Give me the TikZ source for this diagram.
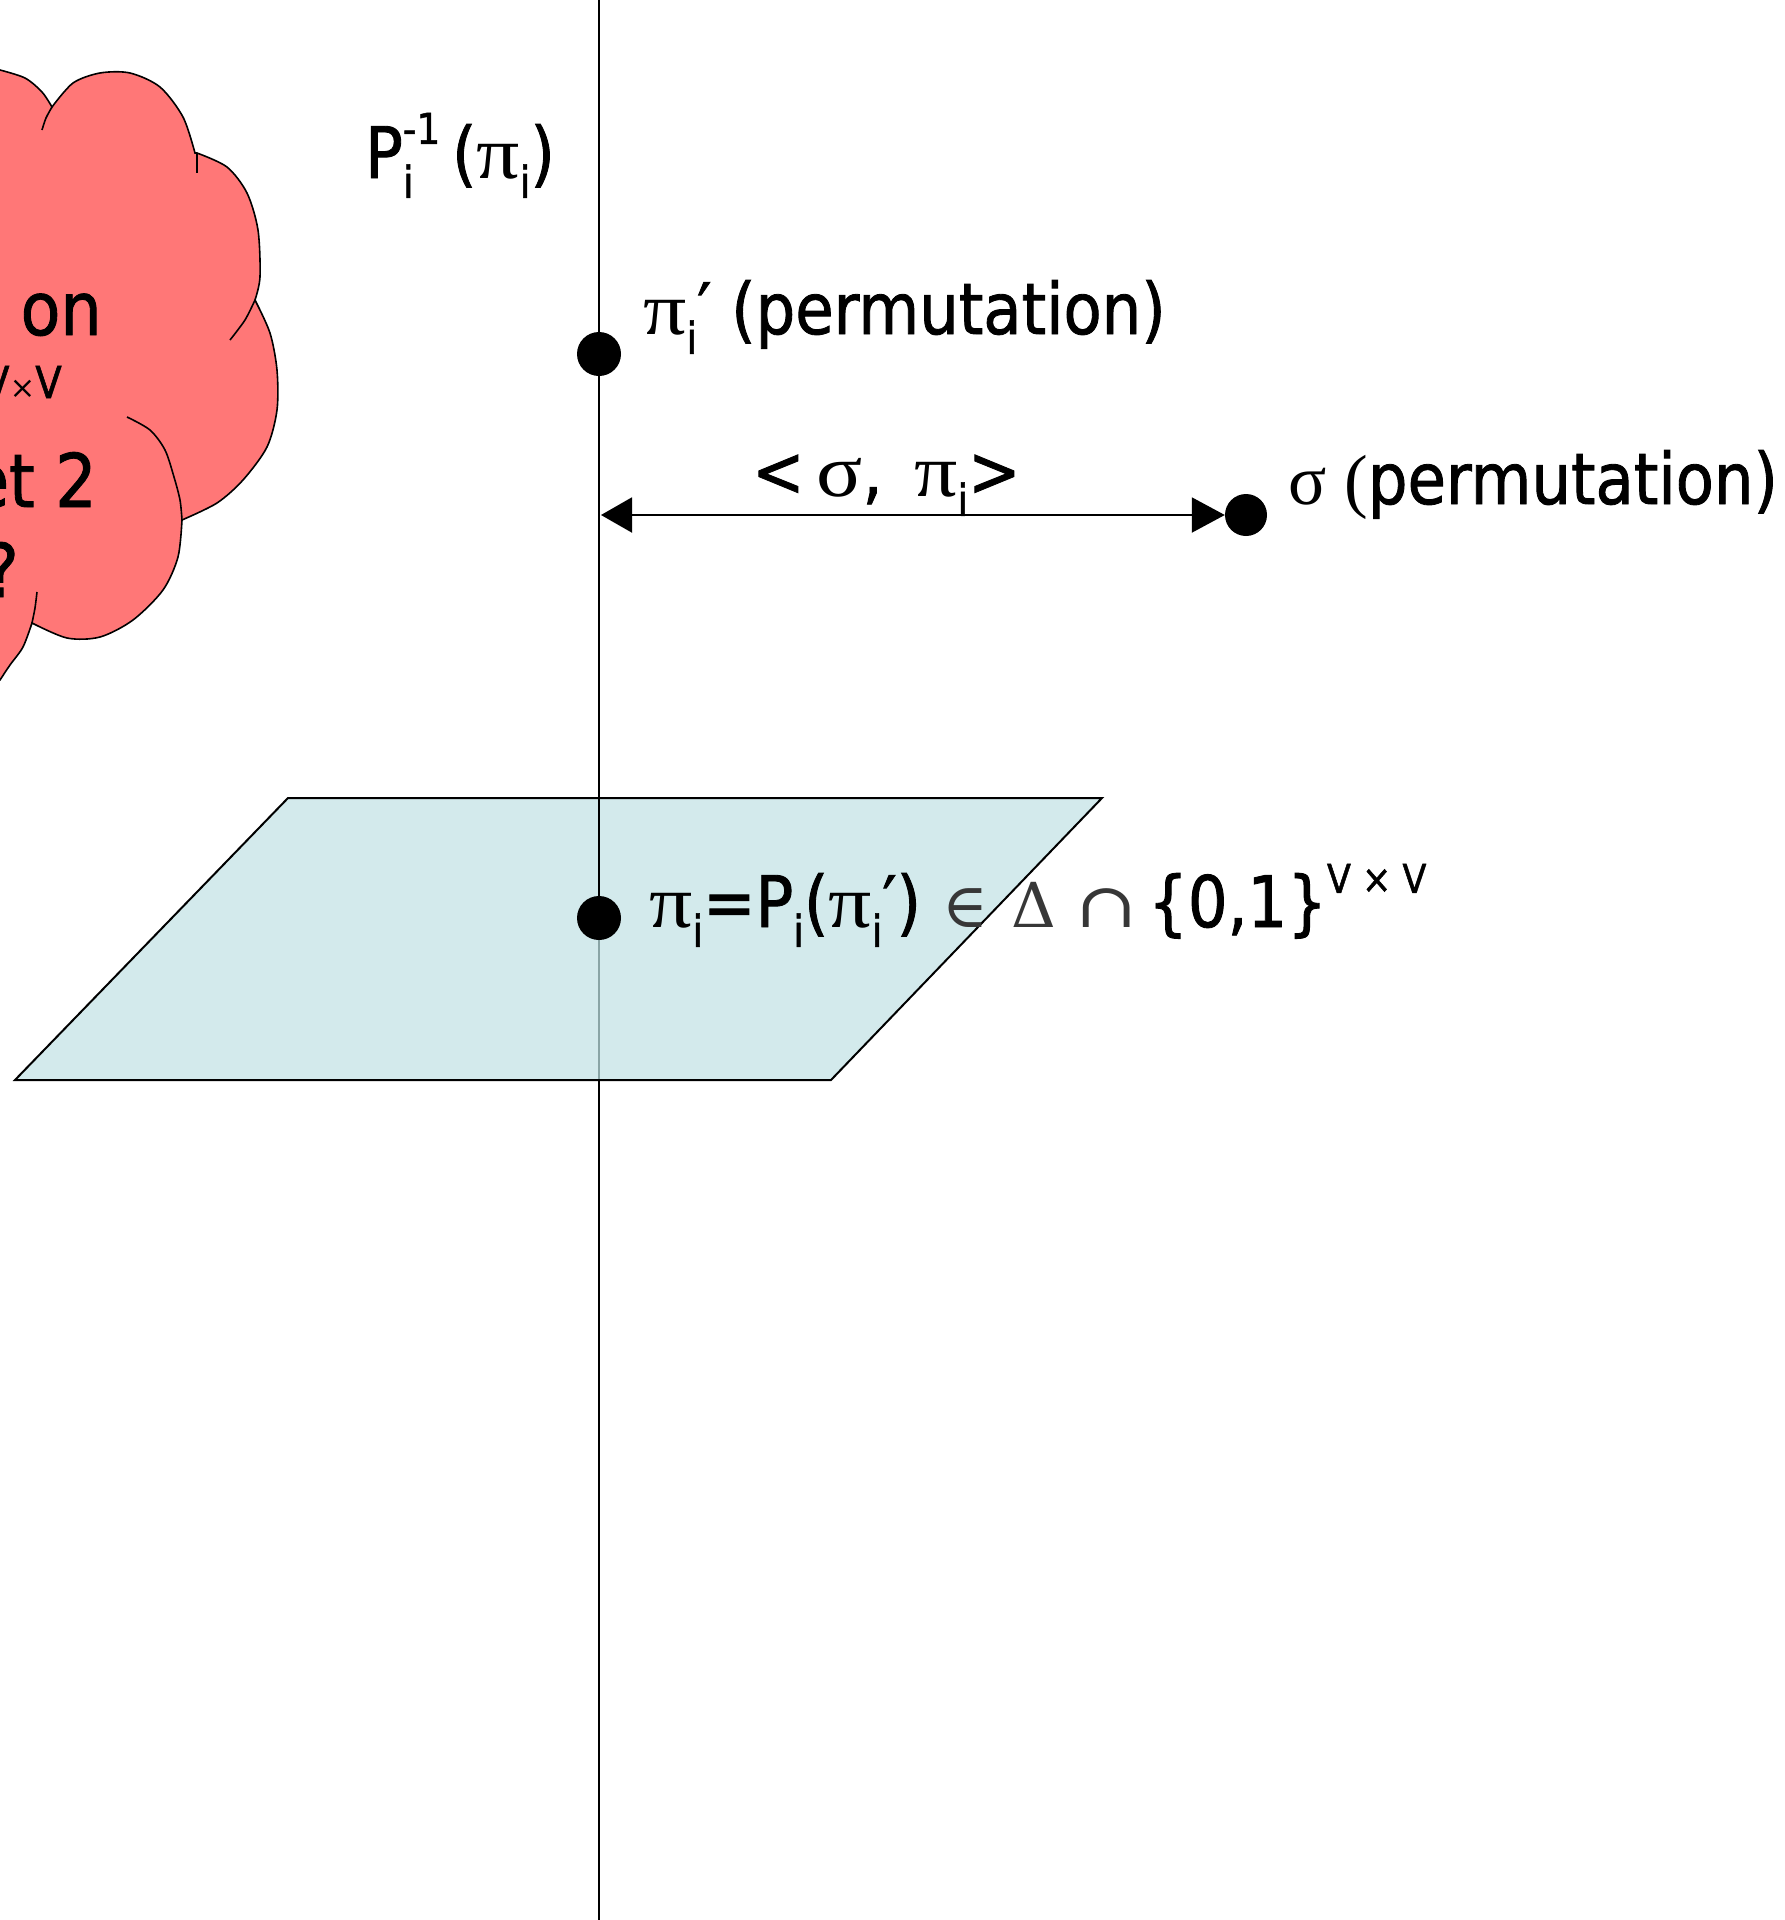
\documentclass[tikz,border=0pt]{standalone}
\usepackage{fontspec}
\setmainfont{DejaVu Sans}[FakeStretch=0.88, FakeBold=1.2]
\newfontfamily\grk{Liberation Serif}[FakeStretch=1.15, Scale=1.05]
\newfontfamily\grkn{Liberation Serif}
\newfontfamily\mth{DejaVu Serif}
\usetikzlibrary{arrows.meta}
\definecolor{cloudfill}{RGB}{255,119,119}
\definecolor{planefill}{RGB}{211,234,236}
\definecolor{underline}{RGB}{138,165,166}
\definecolor{symgray}{RGB}{55,55,55}
\newcommand\lowi{\raisebox{-0.28em}{\scalebox{0.62}{i}}}
\newcommand\hiexp[1]{\raisebox{0.48em}{\scalebox{0.6}{#1}}}
\begin{document}
\begin{tikzpicture}[x=1pt,y=-1pt,
  lw/.style={line width=2pt},
  lbl/.style={inner sep=0pt, font=\fontsize{71}{84}\selectfont},
  cloudtxt/.style={inner sep=0pt, font=\fontsize{74}{88}\selectfont},
  smalltxt/.style={inner sep=0pt, font=\fontsize{44}{52}\selectfont},
  dot/.style={circle, fill=black, minimum size=44pt, inner sep=0pt},
  crease/.style={line width=1.6pt}]
\useasboundingbox (0,0) rectangle (1785,1920);
\clip (0,0) rectangle (1785,1920);

% cloud (cut by the left edge)
\filldraw[fill=cloudfill, draw=black, line width=1.6pt]
  (-10,70) -- plot[smooth] coordinates {(0,70) (25,78) (42,92) (52,107)}
  -- plot[smooth] coordinates {(52,107) (73,83) (100,73) (130,73) (160,87) (183,117) (195,153)}
  -- plot[smooth] coordinates {(197,153) (227,167) (247,193) (258,230) (260,277) (255,300)}
  -- plot[smooth] coordinates {(255,300) (270,333) (277,370) (277,410) (267,447) (243,480) (217,503) (182,520)}
  -- plot[smooth] coordinates {(182,520) (178,557) (163,590) (133,620) (100,637) (67,638) (32,623)}
  -- plot[smooth] coordinates {(32,623) (23,647) (10,665) (0,680)}
  -- (-10,680) -- cycle;
\draw[crease] plot[smooth] coordinates {(52,107) (46,118) (42,130)};
\draw[crease] (197,153) -- (197,173);
\draw[crease] plot[smooth] coordinates {(255,300) (245,320) (230,340)};
\draw[crease] plot[smooth] coordinates {(127,417) (150,430) (165,450) (174,477) (180,500) (182,520)};
\draw[crease] plot[smooth] coordinates {(37,592) (35,608) (32,623)};

\node[cloudtxt, anchor=base east] (c1) at (102,335) {t on};
\node[smalltxt, anchor=base east] (c2) at (62,398) {V{\mth\scalebox{0.7}{×}}V};
\node[cloudtxt, anchor=base east] (c3) at (97,507) {et 2};
\node[cloudtxt, anchor=base west] (c4) at (-16,597) {?};

% vertical line
\coordinate (vtop) at (599,0);
\coordinate (vbot) at (599,1920);
\draw[lw] (vtop) -- (vbot);

% plane
\filldraw[fill=planefill, draw=black, lw] (288,798) -- (1102,798) -- (831,1080) -- (15,1080) -- cycle;
\coordinate (ptop) at (599,799);
\coordinate (pbot) at (599,1079);
\draw[lw, draw=underline] (ptop) -- (pbot);

% dots
\node[dot] (d1) at (599,354) {};
\node[dot] (d2) at (599,918) {};
\node[dot, minimum size=42pt] (sig) at (1246,515) {};
\draw[lw] (d1.center) -- (d2.center);

% arrow
\coordinate (al) at (601,515);
\draw[lw, {Triangle[length=31pt,width=35pt]}-{Triangle[length=33pt,width=35pt]}] (al) -- (sig.west);

% labels
\node[lbl, anchor=base west] (plab) at (365,178) {P\rlap{\lowi}\hiexp{-1}\,({\grk π}\lowi)};
\node[lbl, anchor=base west] (t1) at (643,334) {{\grk π}\lowi′ (permutation)};
\node[lbl, anchor=base west] (t2) at (752,496) {<\,{\grk σ}, \,{\grk π}\lowi>};
\node[lbl, anchor=base west] (t3) at (1288,504) {{\grkn σ (}permutation)};
\node[lbl, anchor=base west] (t4) at (649,927) {{\grk π}\lowi=P\lowi({\grk π}\lowi′)\hspace{0.3em}{\mth\color{symgray}\fontsize{62}{70}\selectfont ∈\hspace{0.38em}Δ\hspace{0.3em}\scalebox{1.2}[1]{∩}}\hspace{0.15em}\{0,1\}{\raisebox{0.48em}{\scalebox{0.56}{V × V}}}};
\end{tikzpicture}
\end{document}
